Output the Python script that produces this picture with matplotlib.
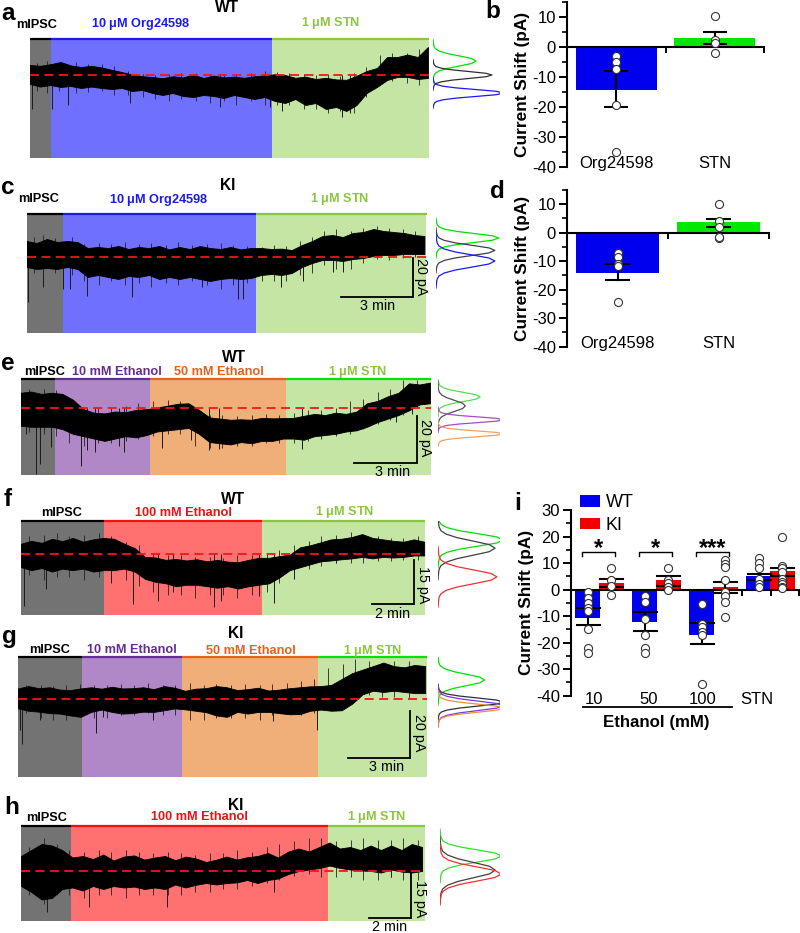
import matplotlib
matplotlib.use("Agg")
import matplotlib.pyplot as plt
import numpy as np

plt.rcParams['font.family'] = ['Liberation Sans', 'DejaVu Sans']
plt.rcParams['mathtext.default'] = 'regular'
W, H = 800, 933
fig = plt.figure(figsize=(W / 100, H / 100), dpi=100)

GRAY, BLUE, GREEN, PURPLE, ORANGE, RED = '#737373', '#7070ff', '#c4e5a3', '#b088c8', '#f0ae78', '#ff7070'
BAR_BLUE, BAR_LIME, BAR_GRN, BAR_PUR, BAR_ORG, BAR_RED = '#1a1aee', '#00e400', '#8cc63f', '#662d91', '#e8601c', '#f01010'

# ---------- trace data: envelope of current (pA relative to baseline) ----------
top_a = [5,4.6,5.4,6.5,4.8,4,4.6,3.8,2.6,1.5,0.2,-0.6,-1,-1.6,-0.6,-1.2,0.2,-1.5,-0.3,-1.2,-0.8,-1.4,-0.6,-0.2,0.4,0,-1.4,-0.8,-2,-1.4,-2.2,-2.4,-0.4,2,3.5,9,9,10.2,9,14]
bot_a = [-4.5,-5.8,-5,-6,-5.5,-6.5,-5.8,-6.5,-7,-6.5,-8,-7.5,-9,-10,-9,-10.5,-11,-10,-10.5,-11.5,-10,-11,-12,-11,-13,-14,-12,-15,-14,-17,-16,-18,-15,-9,-6,-2.5,-1,-1,-2,-1.5]
spk_t_a = [.08,.92,1.58,4.18,7.93,10,10.5,13,13.35]
spk_v_a = [-17,-17,-15,-14,-16,-16,-18,-21,-19]

top_c = [8,7,9,7.5,8,7.5,4.5,5,4.5,5.5,4,5,4.5,5.5,3.8,5,4,5.5,4.5,4,5,3.8,4.5,4.5,4,4.2,3.5,6,8,10.5,11,10,12,12.5,14,13,12.5,12,11,10.5]
bot_c = [-5,-6,-5.5,-6,-5,-6,-10,-9,-10,-11,-9.5,-10,-9,-11,-10,-11,-10,-11,-12,-11,-10.5,-11,-10.5,-9,-8.5,-9,-8,-5,-3,-1.5,-1.5,-2,-1,-0.5,0.5,1,1,1.5,1.5,1.5]
spk_t_c = [.07,.67,1.5,1.8,2.5,4.4,7.3,8.8,9.0,10.6,11.5,12.75,13.2]
spk_v_c = [-22.5,-15,-16,-16,-19.7,-20,-15,-21,-21,-15,-12,-7.5,-7.5]

top_e = [6.5,7,6,6.5,6,3.5,-0.5,-2,-2.3,-1.5,-1.8,-0.8,-0.5,0.2,1,1.8,2,-0.8,-4,-4.5,-5,-4.8,-5,-4.2,-4.4,-4.3,-4.2,-3.3,-2.5,-3,-2,-2.5,-1.5,2,3,5,6.5,10.5,10,10.8]
bot_e = [-7.5,-8,-8,-8,-9,-11,-12,-13,-14,-13,-12,-12.5,-11.5,-10,-9.5,-9,-8.5,-11,-14.5,-15,-15.5,-14.5,-15,-14,-14,-13,-13,-13.5,-12,-11.5,-11,-10,-9.5,-8,-6,-4.5,-3,-1,1.5,2]
spk_t_e = [.24,.76,.95,1.43,2.86,3.17,3.57,4.68,4.95,6.75,8.1,8.97,9.44,13.4,17.9,18.65]
spk_v_e = [-11,-28,-24,-16.5,-24.5,-18,-18.7,-16,-18.7,-17,-13.5,-18,-17.4,-17.4,-6,-2.5]

top_f = [3.5,4.5,3.8,5.2,4.4,5.5,4.2,5,5.5,5.2,3.5,2,-1,-1.2,-2,-1.7,-2.2,-1.8,-2.5,-2,-2.6,-2.8,-2,-1.3,-1.3,-0.7,-0.2,2.3,3,4,5,5.2,5.8,6.8,5.5,5,4.5,4.2,5,4.2]
bot_f = [-4.5,-5.5,-4.8,-6,-5,-5.5,-5,-6,-5.5,-5.5,-5,-6,-8.5,-9.5,-10,-11,-10.5,-10.5,-11,-11.5,-11,-11.8,-11,-10.5,-10,-8,-5.5,-4.5,-3.5,-2.5,-2.2,-1.8,-1.5,-1,-1.5,-1,-1.2,-1,-0.5,-0.5]
spk_t_f = [.13,1.19,4.29,5.32,6.5,7.22,9.2,9.5,11.35,12.06,13,15]
spk_v_f = [-17.8,-12,-10,-17,-16,-13,-18,-16,-14.5,-16.7,-8.7,-3]

top_g = [4.5,5.5,4.6,5,4,3.8,4.5,5,4.4,5.2,4.5,4.6,5,4.2,5.5,4.8,3.5,4.4,4.6,5.5,5,3.8,4.2,4.8,3.6,4,4.6,5,5.4,5.5,6,8.5,11,12.5,14,15.5,14,13.5,14.5,14]
bot_g = [-4,-5,-5.4,-6,-6.2,-7,-7.6,-5.5,-4.5,-5.5,-6.2,-6,-5.4,-5.5,-4.8,-4,-4.4,-5,-5.6,-7,-7.6,-5.5,-6.2,-5.5,-5.5,-6,-6.5,-6.4,-5,-4.5,-5,-4.8,-2,2,3.5,3,3.5,3,2.5,2.5]
spk_t_g = [.08,.21,1.05,3.76,4.11,6.53,12.34,14.48]
spk_v_g = [-13,-19,-9,-14.5,-7.5,-9,-9.5,-13]

top_h = [5,7,9,8.5,7,4.5,5,4,5.5,3.5,4.8,5.2,3.8,4.5,5,3.6,4.8,4.2,3,3.8,4.8,3.8,4.6,5,6,4.5,6.5,7.5,6.5,8,9.5,7.5,8,7,8.5,7,8.5,7,9,8]
bot_h = [-5,-7,-9.5,-9,-6,-5.5,-6.5,-5,-6,-5,-5.5,-5.2,-6,-5.5,-6,-4.5,-5.5,-4.6,-4,-4.5,-4,-3.8,-3,-4,-3,-2.5,-1,0,0.5,1,1.8,1,0.5,0.2,0,-0.5,0.5,-0.2,-0.5,0]
spk_t_h = [1.24,3.22,6.95,12.03,17.6,18.54]
spk_v_h = [-13.5,-12,-12,-7,-2,-2.5]

# fine noise excursions beyond the envelope: times (min), upper and lower reach (pA)
fuzz_t_ac = [0.3,0.7,1.2,1.9,2.4,3.0,3.5,4.1,4.7,5.2,5.8,6.3,6.9,7.5,8.1,8.6,9.2,9.8,10.3,10.8,11.4,11.9,12.4,12.9,13.5,14.0,14.6,15.1,15.7,16.2]
fuzz_hi_a = [6,7,6,6.5,5.5,5.5,4.5,2,0.5,0,0.5,0.8,1,0.5,0.2,0.5,1,2,1.5,1,0.5,0,0.5,-0.5,1,4,10,11,11,13]
fuzz_lo_a = [-8,-9,-8,-9,-8.5,-8,-10,-10,-11,-12,-13,-12,-13,-14,-13,-15,-13,-15,-15,-15,-17,-17,-19,-18,-19,-11,-5,-3,-4,-5]
fuzz_hi_c = [10,11,9.5,10,6.5,7,6.5,7.5,6.5,7,6,7.5,6,6.5,7,6,5.5,5,6,5.5,8,10,13,14,13,14.5,15.5,14.5,14,13]
fuzz_lo_c = [-8,-9,-8,-9,-12,-14,-12,-14,-13,-15,-13,-14,-12,-14,-16,-14,-13,-12,-12,-12,-9,-8,-4,-6,-6,-3,-1,-1.5,-0.5,0]
fuzz_t_efgh = [0.4,1.1,1.7,2.3,3.0,3.7,4.3,5.0,5.6,6.3,7.0,7.6,8.3,9.0,9.6,10.3,11,11.7,12.3,13,13.7,14.3,15,15.7,16.3,17,17.6,18.2,18.9]
fuzz_hi_e = [8,8,7.5,1,-0.5,0,0.5,1,2,3,3.5,3,0,-3,-3,-3.5,-3,-2.5,-3,-2,-1,-1,0,3,4,7,8,12,12]
fuzz_lo_e = [-10,-11,-12,-15,-16,-15,-15,-14,-13,-12,-11,-11,-16,-17,-17,-16,-16,-15,-15,-15,-14,-13,-12,-11,-9,-7,-5,-3,0]
fuzz_hi_f = [6,6.5,7,6,6.5,7,6,4,3,0,-0.5,-0.5,-1,-1,-1.5,-0.5,-0.5,0,1.5,3,4.5,6,6.5,7.5,6.5,6,5.5,5.5,6]
fuzz_lo_f = [-7,-9,-8,-8,-9,-8,-9,-9,-11,-13,-14,-14,-15,-14,-14,-15,-14,-13,-10,-7,-5,-4,-3,-3,-3,-2.5,-2.5,-2,-2]
fuzz_hi_g = [6,6,5.5,6,6.5,6,6,6.5,6,7,6,6,7,6,6.5,6,6.5,6,6.5,7,7.5,8.5,13,15,17,16,15.5,16,16]
fuzz_lo_g = [-6,-8,-9,-9,-7,-8,-8,-7,-7,-6,-7,-7,-9,-9,-8,-8,-8,-9,-7,-6.5,-7,-6,-4,1,1.5,1.5,1,1,0.5]
fuzz_hi_h = [8,11,9,7,6.5,7,6.5,7,6.5,6,6.5,6,5.5,6,6,7,6.5,8,9,10,11,11,10,10.5,11,10.5,10.5,11,10.5]
fuzz_lo_h = [-8,-11,-8,-8,-9,-8,-8,-9,-8,-8,-8,-8,-7,-7,-6,-6,-5,-4,-3,-1.5,-1,-2,-2,-2,-3,-3,-2,-3,-3]

# drug-epoch boundaries (minutes)
edges_a = [0, .875, 10.08, 16.63]
edges_c = [0, 1.54, 9.58, 16.67]
edges_e = [0, 1.64, 6.17, 12.64, 19.55]
edges_f = [0, 3.95, 11.48, 19.24]
edges_g = [0, 3.10, 7.93, 14.51, 19.79]
edges_h = [0, 2.38, 14.62, 19.24]

# amplitude histograms: peak (pA), width (pA), height (fraction)
hist_profile_u = [-4.5,-3.5,-3,-2.5,-2,-1.5,-1,-0.5,0,0.5,1,1.5,2,2.5,3,3.5,4.5]
hist_profile_f = [0,.01,.02,.05,.14,.33,.62,.9,1,.9,.62,.33,.14,.05,.02,.01,0]
hist_a = [('#00e000',7,2.5,.64),('#303030',0,1.7,.88),('#1a1aee',-9,1.7,1.05)]
hist_c = [('#00e000',9.5,2.2,.98),('#404040',3.3,2.5,.92),('#1a1aee',-2,3,.92)]
hist_e = [('#50e050',4.7,1.9,.68),('#505050',.9,2.3,.44),('#a050c0',-5,1.2,1.05),('#f0a060',-11,1.2,1.05)]
hist_f = [('#00e000',4.8,2.1,1.05),('#404040',2,2.4,.92),('#f03030',-7.8,2.3,.95)]
hist_g = [('#00e000',8.1,2.4,.75),('#303030',-1.3,1.7,1.05),('#8030f0',-2.9,2,1.05),('#f09030',-3.9,1.7,1.05)]
hist_h = [('#30e030',5,2,1.02),('#404040',.3,2.5,.92),('#f03030',-1,2.3,1.02)]

def pxaxes(x0, y0, x1, y1, **kw):
    return fig.add_axes([x0 / W, 1 - y1 / H, (x1 - x0) / W, (y1 - y0) / H], **kw)

def panel(box, base, pxmin, pxpa, edges, fills, bars, top, bot, st, sv, dur, hist, hx, ft, fhi, flo):
    x0, y0, x1, y1 = box
    ax = pxaxes(x0, y0, x1, y1)
    ax.set_xlim(0, (x1 - x0) / pxmin)
    ylim = ((base - y1) / pxpa, (base - y0) / pxpa)
    ax.set_ylim(*ylim)
    ax.axis('off')
    for i, c in enumerate(fills):
        ax.axvspan(edges[i], edges[i + 1], color=c, lw=0, zorder=1)
        ax.plot([edges[i], edges[i + 1]], [ylim[1], ylim[1]], color=bars[i], lw=1.6,
                solid_capstyle='butt', clip_on=False, zorder=3)
    t = np.linspace(0, dur, len(top))
    ax.fill_between(t, bot, top, color='black', lw=0.6, zorder=4)
    ax.vlines(st, 0, sv, color='#1a1a1a', lw=0.7, zorder=3.5)
    ax.vlines(ft, flo, fhi, color='#222222', lw=0.6, zorder=3.6)
    ax.plot([0, (x1 - x0) / pxmin], [0, 0], color='#f01818', lw=1.3, dashes=(5, 3), zorder=5)
    hax = pxaxes(hx, y0, 500, y1)
    hax.set_xlim(0, 1)
    hax.set_ylim(*ylim)
    hax.axis('off')
    for col, p, s, a in hist:
        hax.plot(a * np.array(hist_profile_f), p + s * np.array(hist_profile_u), color=col, lw=0.9)

panel((30, 39, 429, 158), 75, 24, 2, edges_a, [GRAY, BLUE, GREEN], ['k', BAR_BLUE, BAR_GRN],
      top_a, bot_a, spk_t_a, spk_v_a, 16.58, hist_a, 433, fuzz_t_ac, fuzz_hi_a, fuzz_lo_a)
panel((26.5, 214, 426, 333), 257, 24, 2, edges_c, [GRAY, BLUE, GREEN], ['k', BAR_BLUE, BAR_GRN],
      top_c, bot_c, spk_t_c, spk_v_c, 16.58, hist_c, 436, fuzz_t_ac, fuzz_hi_c, fuzz_lo_c)
panel((20.5, 379, 431, 475), 408, 21, 2.35, edges_e, [GRAY, PURPLE, ORANGE, GREEN], ['k', BAR_PUR, BAR_ORG, BAR_LIME],
      top_e, bot_e, spk_t_e, spk_v_e, 19.5, hist_e, 438, fuzz_t_efgh, fuzz_hi_e, fuzz_lo_e)
panel((21, 521, 425, 615), 554, 21, 2.93, edges_f, [GRAY, RED, GREEN], ['k', BAR_RED, BAR_GRN],
      top_f, bot_f, spk_t_f, spk_v_f, 19.2, hist_f, 438, fuzz_t_efgh, fuzz_hi_f, fuzz_lo_f)
panel((18, 657, 427, 777), 699, 20.67, 2.35, edges_g, [GRAY, PURPLE, ORANGE, GREEN], ['k', BAR_PUR, BAR_ORG, BAR_LIME],
      top_g, bot_g, spk_t_g, spk_v_g, 19.7, hist_g, 438, fuzz_t_efgh, fuzz_hi_g, fuzz_lo_g)
panel((21, 826, 425, 921), 871, 21, 3, edges_h, [GRAY, RED, GREEN], ['k', BAR_RED, BAR_GRN],
      top_h, bot_h, spk_t_h, spk_v_h, 19.1, hist_h, 440, fuzz_t_efgh, fuzz_hi_h, fuzz_lo_h)

# ---------- bar charts ----------
org_b_pts = [-3, -5, -7.3, -19.5, -35]
stn_b_pts = [10.5, 2.5, 1.5, -2]
org_d_pts = [-7, -8.5, -11, -11.5, -24.3]
stn_d_pts = [10, 4.2, 2, -2, -1.5]
bar_b = [-14.2, 3.2]
bar_d = [-14.2, 3.6]
err_b = [(-8, -20), (5, 1)]
err_d = [(-11, -16.7), (4.8, 2)]
names_bd = ['Org24598', 'STN']

TICK, LAB = 12, 12.4

def style(ax, top, bottom):
    ax.set_ylim(bottom, top)
    for s in ('top', 'right'):
        ax.spines[s].set_visible(False)
    ax.spines['left'].set_linewidth(1.5)
    ax.spines['bottom'].set_position(('data', 0))
    ax.spines['bottom'].set_linewidth(1.5)
    ax.set_yticks(np.arange(bottom, 11 if top == 15 else 31, 10))
    ax.set_yticks(np.arange(bottom, top + 1, 5), minor=True)
    ax.tick_params(axis='y', which='major', length=6, width=1.4, labelsize=TICK, pad=2)
    ax.tick_params(axis='y', which='minor', length=3.5, width=1.2)
    ax.patch.set_alpha(0)
    ax.set_ylabel('Current Shift (pA)', fontsize=LAB, fontweight='bold', labelpad=1)
    ax.set_yticklabels([str(int(v)) for v in ax.get_yticks()])

def err(ax, x, hi, lo, capw=0.11):
    ax.plot([x, x], [lo, hi], color='k', lw=1.5, zorder=4)
    for v in (hi, lo):
        ax.plot([x - capw, x + capw], [v, v], color='k', lw=1.5, zorder=4)

def pts(ax, x, vals, ms=5.8):
    ax.plot([x] * len(vals), vals, 'o', mfc='white', mec='#333333', mew=0.8, ms=ms, zorder=5, clip_on=False)

def small(box, bars, errs, pa, pb):
    ax = pxaxes(*box)
    ax.set_xlim(0, 2)
    style(ax, 15, -40)
    ax.bar([.5, 1.5], bars, width=.82, color=['#0000ee', '#00e800'], zorder=2)
    ax.set_xticks([.5, 1, 2])
    ax.set_xticklabels([])
    ax.tick_params(axis='x', length=4, width=1.4, direction='out')
    for x, (h, l) in zip([.5, 1.5], errs):
        err(ax, x, h, l)
    pts(ax, .5, pa)
    pts(ax, 1.5, pb)
    for x, n in zip([.5, 1.5], names_bd):
        ax.text(x, -39, n, ha='center', va='center', fontsize=TICK)
    ax.set_zorder(6)
    return ax

small((567, 2.5, 764, 166.7), bar_b, err_b, org_b_pts, stn_b_pts)
small((567, 190, 769, 346.7), bar_d, err_d, org_d_pts, stn_d_pts)

groups_i = ['10', '50', '100', 'STN']
wt_i = [-10.8, -12.3, -17, 5]
ki_i = [2.4, 3.6, 1.1, 7]
err_wt_i = [(-7, -13.5), (-8.5, -15.5), (-12.5, -20.5), (6, 3.7)]
err_ki_i = [(4, 1), (5, 1.5), (3, -1.2), (8, 5)]
pts_wt_i = [[-1, -3.2, -5, -7, -8, -15, -22, -24], [-2.5, -4.5, -11, -17.3, -22, -24],
            [-5.5, -13, -14, -16, -17, -35.5], [12, 10, 8, 4, 2, 1]]
pts_ki_i = [[8, 3.5, 1.5, -2], [8, 3.5, 2.5, 1, 0], [11, 9.5, 8.5, 3.5, -1, -2.5, -4.5, -10.3],
            [20, 9, 8, 6.5, 4, 3, 2, 1, 0.5]]
sig_i = ['*', '*', '***']

ax = pxaxes(571, 510, 799, 695.7)
ax.set_xlim(-.5, 3.5)
style(ax, 30, -40)
xs = np.arange(4)
b1 = ax.bar(xs - .21, wt_i, width=.43, color='#0000ee', zorder=2, label='WT')
b2 = ax.bar(xs + .21, ki_i, width=.43, color='#f00000', zorder=2, label='KI')
ax.set_xticks([2.5, 3.0, 3.5])
ax.set_xticklabels([])
ax.tick_params(axis='x', length=4, width=1.4)
for i in xs:
    err(ax, i - .2, *err_wt_i[i], capw=.2)
    err(ax, i + .21, *err_ki_i[i], capw=.2)
    pts(ax, i - .2, pts_wt_i[i])
    pts(ax, i + .21, pts_ki_i[i])
for i, s in enumerate(sig_i):
    ax.plot([i - .31, i - .31, i + .27, i + .27], [12.8, 14, 14, 12.8], color='k', lw=1)
    ax.text(i - .02, 15.5, s, ha='center', va='center', fontsize=17, fontweight='bold')
for i, g in enumerate(groups_i):
    ax.text(i * .95 - .09, -41.5, g, ha='center', va='center', fontsize=TICK, clip_on=False)
leg = ax.legend(handles=[b1, b2], loc='upper left', bbox_to_anchor=(.038, 1.085), frameon=False, fontsize=13,
                handlelength=1.15, handleheight=.6, handletextpad=.3, labelspacing=.3, borderpad=0, borderaxespad=0)
ax.set_zorder(6)

# ---------- overlay: annotations ----------
ov = fig.add_axes([0, 0, 1, 1], zorder=10)
ov.set_xlim(0, W)
ov.set_ylim(H, 0)
ov.axis('off')
ov.patch.set_alpha(0)

STN = '1 $\\mathregular{\\mu}$M STN'
ORG = '10 $\\mathregular{\\mu}$M Org24598'

def T(x, y, s, c='k', fs=9.2, w='bold', **kw):
    ov.text(x, y, s, color=c, fontsize=fs, fontweight=w, ha=kw.pop('ha', 'center'), va='center', **kw)

letters = [('a', 1, 13), ('b', 485, 12), ('c', 1, 187), ('d', 490, 192), ('e', 1, 363), ('f', 4, 499),
           ('g', 2, 637), ('h', 4, 807), ('i', 514, 504)]
for s, x, y in letters:
    T(x, y, s, fs=17.5, ha='left')

labels = [
    (227, 7, 'WT', 'k', 11.2), (36.5, 25, 'mIPSC', 'k', 9.2), (141, 24, ORG, BAR_BLUE, 9.2), (331, 23, STN, BAR_GRN, 9.2),
    (227.7, 186, 'KI', 'k', 11.2), (39, 199, 'mIPSC', 'k', 9.2), (159, 200, ORG, BAR_BLUE, 9.2), (340, 199, STN, BAR_GRN, 9.2),
    (234, 358, 'WT', 'k', 11.2), (45, 372, 'mIPSC', 'k', 9.2), (117, 372, '10 mM Ethanol', BAR_PUR, 9.2),
    (219, 372, '50 mM Ethanol', BAR_ORG, 9.2), (358, 372, STN, BAR_GRN, 9.2),
    (233, 499, 'WT', 'k', 11.2), (62, 513, 'mIPSC', 'k', 9.2), (183, 513, '100 mM Ethanol', BAR_RED, 9.2), (345, 512, STN, BAR_GRN, 9.2),
    (236, 633, 'KI', 'k', 11.2), (50, 650, 'mIPSC', 'k', 9.2), (132, 650, '10 mM Ethanol', BAR_PUR, 9.2),
    (251, 651, '50 mM Ethanol', BAR_ORG, 9.2), (373, 651, STN, BAR_GRN, 9.2),
    (236, 805, 'KI', 'k', 11.2), (47, 818, 'mIPSC', 'k', 9.2), (199, 817, '100 mM Ethanol', BAR_RED, 9.2), (377, 817, STN, BAR_GRN, 9.2),
]
for x, y, s, c, fs in labels:
    T(x, y, s, c, fs)

scales = [
    (340.7, 412.7, 257.5, 296.7, '3 min', 378, 305.7, '20 pA', 420.7, 276.7),
    (354, 417, 416, 462.7, '3 min', 393, 472, '20 pA', 425, 437.7),
    (372, 414, 560, 604, '2 min', 393, 614, '15 pA', 422.7, 585),
    (348, 410, 711, 758, '3 min', 387, 767, '20 pA', 419, 733),
    (369, 411, 873, 918, '2 min', 390, 927, '15 pA', 420, 899),
]
for xa, xb, ya, yb, s1, x1, y1, s2, x2, y2 in scales:
    ov.plot([xa, xb, xb], [yb, yb, ya], color='k', lw=1.3, solid_joinstyle='miter')
    T(x1, y1, s1, fs=10.3, w='normal')
    T(x2, y2, s2, fs=10.3, w='normal', rotation=-90)

ov.plot([582.7, 731.7], [706.7, 706.7], color='k', lw=1.3)
T(656.7, 723, 'Ethanol (mM)', fs=12.2)

fig.savefig('out.png', dpi=100)
